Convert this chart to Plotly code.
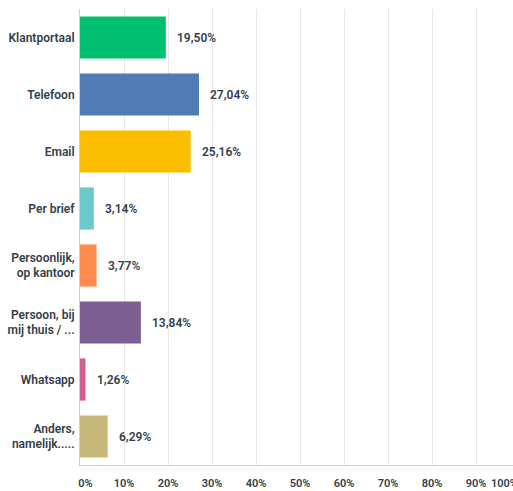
import plotly.graph_objects as go

categories = ["Klantportaal", "Telefoon", "Email", "Per brief",
              "Persoonlijk,<br>op kantoor", "Persoon, bij<br>mij thuis / ...",
              "Whatsapp", "Anders,<br>namelijk....."]
values = [19.50, 27.04, 25.16, 3.14, 3.77, 13.84, 1.26, 6.29]
colors = ["#00BF6F", "#507CB6", "#F9BE00", "#6BC8CD",
          "#FF8B4F", "#7D5E90", "#D25F90", "#C7B879"]
tick_vals = [0, 10, 20, 30, 40, 50, 60, 70, 80, 90]
tick_text = ["\u00a0\u00a0\u00a0\u00a00%", "10%", "20%", "30%", "40%", "50%",
             "60%", "70%", "80%", "90%"]

TEXT = "#333E48"
FONT = "Roboto"

fig = go.Figure(go.Bar(
    x=values, y=categories, orientation="h",
    marker=dict(color=colors, line=dict(width=0)),
    hoverinfo="skip",
))

for v, c in zip(values, categories):
    fig.add_annotation(x=v, y=c, xref="x", yref="y",
                       text=f"{v:.2f}".replace(".", ",") + "%",
                       showarrow=False, xanchor="left", xshift=9,
                       font=dict(family=FONT, size=12, color=TEXT, weight=600))

# 100% tick label (the right end of the axis is beyond the visible area)
fig.add_annotation(x=(504 - 80) / (513 - 80), y=0, xref="paper", yref="paper",
                   yshift=-18, text="100%", showarrow=False,
                   xanchor="center", yanchor="middle",
                   font=dict(family=FONT, size=11, color=TEXT, weight=600))

fig.update_layout(
    width=513, height=491,
    margin=dict(l=80, r=0, t=9, b=26),
    paper_bgcolor="white", plot_bgcolor="white",
    showlegend=False,
    bargap=0.26,
    font=dict(family=FONT, color=TEXT),
    xaxis=dict(range=[0, (513 - 80) / 4.4], tickvals=tick_vals, ticktext=tick_text,
               showgrid=True, gridcolor="#E8E8E8", gridwidth=1,
               zeroline=False, showline=True, linecolor="#D0D0D0", linewidth=1,
               ticks="outside", ticklen=8, tickcolor="rgba(0,0,0,0)",
               tickfont=dict(family=FONT, size=11, color=TEXT, weight=600),
               fixedrange=True),
    yaxis=dict(autorange="reversed", showgrid=False, zeroline=False,
               showline=True, linecolor="#D0D0D0", linewidth=1,
               ticks="outside", ticklen=2, tickcolor="rgba(0,0,0,0)",
               tickfont=dict(family=FONT, size=12, color=TEXT, weight=600),
               fixedrange=True),
)

fig.write_html("out.html", config={"displayModeBar": False},
               post_script="document.body.style.margin='0px';document.body.style.overflow='hidden';")
